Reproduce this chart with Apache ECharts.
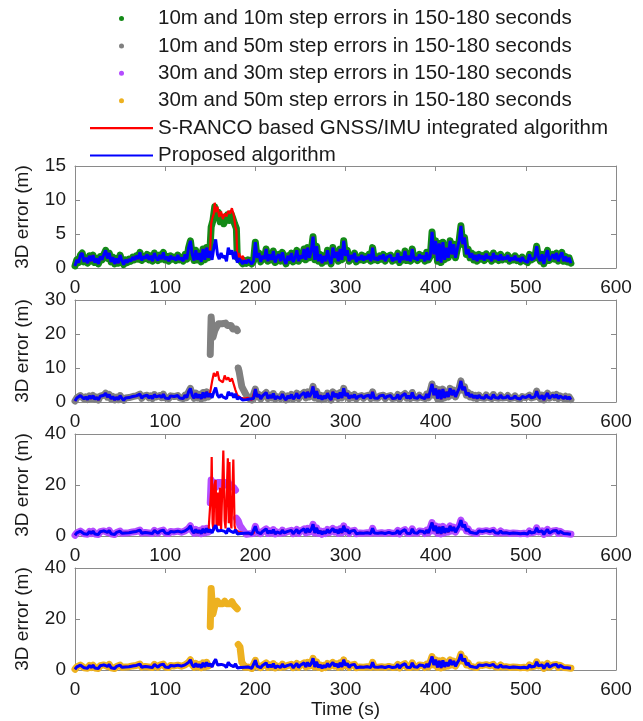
<!DOCTYPE html>
<html>
<head>
<meta charset="utf-8">
<script src="https://cdn.jsdelivr.net/npm/echarts@6/dist/echarts.min.js"></script>
<style>
html,body{margin:0;padding:0;background:#fff;}
#chart{width:643px;height:721px;}
</style>
</head>
<body>
<div id="chart"></div>
<script>
// ---- data ----
const STEP = 2; // seconds between samples of the base error series
// Proposed algorithm 3D error, t = 0..550 s every 2 s
const baseError = [
  0.3,1.2,0.8,1.9,2.2,0.9,1.5,0.7,1.8,1.0,
  1.9,0.8,1.4,0.6,1.7,1.2,2.0,2.6,1.4,2.2,
  0.9,1.6,0.6,1.4,0.7,1.9,1.1,0.5,1.2,0.8,
  1.3,1.0,1.6,1.2,1.8,1.3,2.3,1.1,1.7,1.4,
  2.0,1.2,1.8,1.0,2.2,1.5,1.1,1.9,1.3,2.3,
  1.2,1.7,1.0,1.8,1.3,1.6,1.1,1.9,1.2,1.5,
  1.0,2.0,1.3,3.0,4.0,2.0,1.1,2.6,1.2,2.2,
  0.9,2.8,1.2,3.0,1.5,
  2.5,1.2,3.0,4.2,2.0,1.3,2.2,1.5,1.8,1.0,3.0,2.0,2.6,1.3,2.4,
  0.8,1.4,1.0,0.6,1.1,0.7,1.2,0.9,0.6,1.0,
  3.8,1.5,2.2,0.9,1.8,1.3,2.8,1.0,2.0,1.2,
  2.5,0.8,1.6,2.0,1.0,2.3,1.2,0.6,1.8,1.1,
  2.2,0.9,1.5,2.6,1.0,1.9,1.4,2.8,1.2,3.0,
  1.5,2.5,4.6,1.2,3.2,1.0,2.0,0.7,1.8,1.0,
  2.6,1.3,0.6,3.0,1.5,2.4,1.0,2.8,1.2,4.0,
  1.8,2.6,1.0,1.9,1.3,2.2,0.9,1.6,1.2,1.9,
  1.1,1.7,1.3,2.0,1.0,3.0,1.2,1.6,1.1,1.8,
  1.3,2.0,1.0,1.6,1.4,1.9,1.0,1.5,1.2,2.2,
  0.8,1.7,1.2,2.5,1.1,1.8,1.0,2.8,1.3,1.6,
  1.1,2.0,1.4,1.8,1.0,2.3,1.2,1.7,5.3,2.0,
  4.0,1.0,3.6,0.8,3.8,1.2,3.0,1.5,4.0,2.0,
  3.5,1.5,2.8,4.0,6.2,3.5,4.5,2.0,2.8,1.5,
  2.2,1.2,1.9,1.0,2.0,1.3,1.8,1.1,2.1,1.4,
  1.7,1.0,2.2,1.3,1.8,1.1,2.0,1.2,1.6,1.3,
  1.9,1.0,1.5,1.2,1.8,1.1,1.4,0.9,1.6,1.1,
  1.3,0.8,2.0,1.2,1.0,1.5,3.2,1.6,1.0,2.0,
  0.6,1.8,2.6,1.1,0.9,2.0,1.3,2.2,1.0,1.8,
  2.3,1.0,1.7,0.9,1.5,0.7
];

// Panel 1: 10m and 10m step errors (150-180 s)
const p1Step = [[150,3.5],[151,6.0],[153,7.0],[155,9.0],[157,7.5],[159,8.2],[161,6.8],[163,7.5],[165,6.5],[167,7.2],[169,7.8],[171,7.0],[173,8.0],[175,7.3],[177,6.5],[179,5.8],[180,1.5]];
const p1Ranco = [[150,3.0],[151,6.5],[152,7.2],[154,8.0],[155,9.6],[156,8.2],[158,9.0],[160,7.5],[162,8.3],[164,7.2],[166,8.0],[168,7.6],[170,8.4],[172,8.0],[174,8.8],[176,7.8],[178,6.0],[179,5.5],[180,1.5],[182,2.2],[184,1.2],[186,1.8],[188,1.0],[190,1.0]];

// Panel 2: 10m and 50m step errors
const p2StepA = [[150,14],[150.5,20],[151,25],[152,22],[153,19],[155,21],[157,22],[159,23],[161,23.5],[163,23],[165,22.5],[167,23.2],[169,22.5],[171,22],[173,22.5],[175,21.5],[177,21],[179,21.5],[180,21]];
const p2StepB = [[181,10],[182,9],[183,7.5],[184,6],[185,4.5],[187,3.5],[189,2.5],[191,2]];
const p2Ranco = [[150,3],[152,6],[154,8.5],[156,7.5],[158,9],[160,6.5],[162,7],[164,5.8],[166,7.8],[168,6.5],[170,7.2],[172,6],[174,7],[176,6.5],[178,3.5],[180,2],[182,1.5],[184,1.2],[186,0.8],[188,1],[190,1.2]];

// Panel 3: 30m and 30m step errors
const p3StepA = [[150,13],[151,22],[152,20],[154,21],[156,19],[158,21],[160,20.5],[162,21],[164,20],[166,21],[168,20],[170,21],[172,19.5],[174,20],[176,19],[178,18]];
const p3StepB = [[179,7],[181,6],[183,4],[185,3],[187,2]];
const p3Ranco = [[150,2],[151,18],[151.6,31],[152.6,5],[153.6,2],[154.6,20],[156,22],[157,3],[158.5,17],[159.5,4],[160.8,19],[162,2],[164.5,33.5],[166,6],[167,3],[169.5,30.5],[170.5,5],[171.3,29],[172.5,6],[173.5,3],[175.6,30],[177,4],[178,2.5],[180,2],[182,1.5],[186,1.2],[190,1]];

// Panel 4: 30m and 50m step errors
const p4StepA = [[150,17],[151,32],[152,27],[153,22],[155,25],[158,27],[160,26],[162,26.5],[164,26],[166,27],[168,26],[170,26.5],[172,26],[174,26.8],[176,25.5],[178,25],[180,24]];
const p4StepB = [[181,10],[182,9.5],[183,9],[184,6],[185,3],[187,2]];

const seriesNames = [
  '10m and 10m step errors in 150-180 seconds',
  '10m and 50m step errors in 150-180 seconds',
  '30m and 30m step errors in 150-180 seconds',
  '30m and 50m step errors in 150-180 seconds',
  'S-RANCO based GNSS/IMU integrated algorithm',
  'Proposed algorithm'
];
const stepColors = ['#138a17', '#808080', '#b44cff', '#edb120'];
const yMax = [15, 30, 40, 40];
const yInterval = [5, 10, 20, 20];
const xTickMax = 600, xTickStep = 100;

// ---- build series data ----
function basePts(t0, t1) {
  const out = [];
  baseError.forEach((v, i) => { const t = i * STEP; if (t >= t0 && t <= t1) out.push([t, v]); });
  return out;
}
const GAP = [null, null];
const blue = basePts(0, 550);
const stepData = [
  [...basePts(0,148), ...p1Step, ...basePts(182,550)],
  [...basePts(0,148), GAP, ...p2StepA, GAP, ...p2StepB, ...basePts(192,550)],
  [...basePts(0,148), GAP, ...p3StepA, GAP, ...p3StepB, ...basePts(190,550)],
  [...basePts(0,148), GAP, ...p4StepA, GAP, ...p4StepB, ...basePts(188,550)]
];
const rancoData = [
  [...basePts(0,148), ...p1Ranco, ...basePts(192,550)],
  [...basePts(0,148), ...p2Ranco, ...basePts(192,550)],
  [...basePts(0,148), ...p3Ranco, ...basePts(192,550)],
  basePts(0,550)
];

const FONT = "'Liberation Sans', Arial, sans-serif";
const frameColor = '#8a8a8a';
const labelColor = '#1a1a1a';
const tops = [166, 300, 434, 568];
const LINE_ICON = 'path://M0,0 L60,0 L60,2 L0,2 Z';

const grids = [], xAxes = [], yAxes = [], series = [];
for (let p = 0; p < 4; p++) {
  grids.push({ left: 75, right: 27, top: tops[p], height: 102, containLabel: false });
  const axisLine = { show: true, onZero: false, lineStyle: { color: frameColor, width: 1 } };
  const axisTick = { show: true, inside: true, length: 5, lineStyle: { color: frameColor } };
  xAxes.push({
    type: 'value', gridIndex: p, position: 'bottom', min: 0, max: xTickMax, interval: xTickStep,
    axisLine, axisTick, splitLine: { show: false },
    axisLabel: { color: labelColor, fontSize: 19, fontFamily: FONT, margin: 10 },
    name: p === 3 ? 'Time (s)' : '', nameLocation: 'middle', nameGap: 26,
    nameTextStyle: { color: labelColor, fontSize: 19, fontFamily: FONT }
  });
  xAxes.push({
    type: 'value', gridIndex: p, position: 'top', min: 0, max: xTickMax, interval: xTickStep,
    axisLine, axisTick, splitLine: { show: false }, axisLabel: { show: false }
  });
  yAxes.push({
    type: 'value', gridIndex: p, position: 'left', min: 0, max: yMax[p], interval: yInterval[p],
    axisLine, axisTick, splitLine: { show: false },
    axisLabel: { color: labelColor, fontSize: 19, fontFamily: FONT, margin: 9 },
    name: '3D error (m)', nameLocation: 'middle', nameGap: 43, nameRotate: 90,
    nameTextStyle: { color: labelColor, fontSize: 19, fontFamily: FONT }
  });
  yAxes.push({
    type: 'value', gridIndex: p, position: 'right', min: 0, max: yMax[p], interval: yInterval[p],
    axisLine, axisTick, splitLine: { show: false }, axisLabel: { show: false }
  });
  const xi = 2 * p, yi = 2 * p;
  series.push({
    name: seriesNames[p], type: 'line', xAxisIndex: xi, yAxisIndex: yi,
    data: stepData[p], symbol: 'none', showSymbol: false, connectNulls: false,
    lineStyle: { color: stepColors[p], width: 7, cap: 'round', join: 'round' },
    itemStyle: { color: stepColors[p] }, z: 2
  });
  series.push({
    name: seriesNames[4], type: 'line', xAxisIndex: xi, yAxisIndex: yi,
    data: rancoData[p], symbol: 'none', showSymbol: false,
    lineStyle: { color: '#ff0000', width: 2.2 }, itemStyle: { color: '#ff0000' }, z: 3
  });
  series.push({
    name: seriesNames[5], type: 'line', xAxisIndex: xi, yAxisIndex: yi,
    data: blue, symbol: 'none', showSymbol: false,
    lineStyle: { color: '#0000ff', width: 3 }, itemStyle: { color: '#0000ff' }, z: 4
  });
}

const chart = echarts.init(document.getElementById('chart'), null, { renderer: 'canvas' });
chart.setOption({
  animation: false,
  backgroundColor: '#ffffff',
  legend: {
    orient: 'vertical', left: 90, top: 8, padding: 0, itemWidth: 63, itemHeight: 5, itemGap: 6.4,
    selectedMode: false,
    textStyle: { color: labelColor, fontSize: 20.5, fontFamily: FONT, lineHeight: 20 },
    data: [
      { name: seriesNames[0], icon: 'circle' },
      { name: seriesNames[1], icon: 'circle' },
      { name: seriesNames[2], icon: 'circle' },
      { name: seriesNames[3], icon: 'circle' },
      { name: seriesNames[4], icon: LINE_ICON },
      { name: seriesNames[5], icon: LINE_ICON }
    ]
  },
  grid: grids, xAxis: xAxes, yAxis: yAxes, series
});
</script>
</body>
</html>
